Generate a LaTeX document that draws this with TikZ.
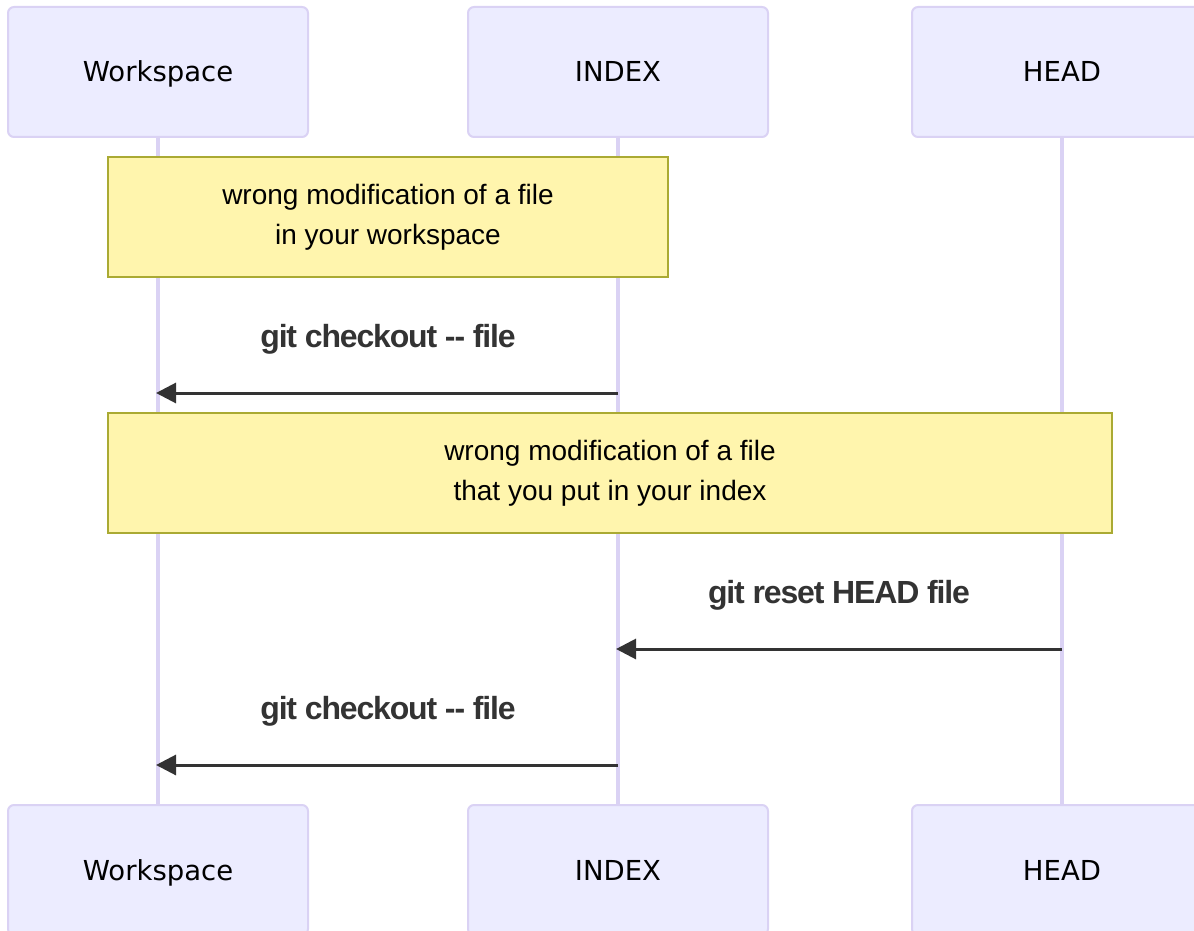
\documentclass[tikz,border=0pt]{standalone}
\usepackage{fontspec}
\setmainfont{Liberation Sans}
\newfontfamily\actorfont{DejaVu Sans}
\newfontfamily\msgfont[LetterSpace=-3.6]{Liberation Sans}
\usetikzlibrary{arrows.meta}
\definecolor{actorfill}{HTML}{ECECFF}
\definecolor{actorline}{HTML}{DAD2F4}
\definecolor{notefill}{HTML}{FFF5AD}
\definecolor{noteline}{HTML}{AAAA33}
\definecolor{msgline}{HTML}{333333}
\begin{document}
\begin{tikzpicture}[x=1pt,y=-1pt,
  actor/.style={draw=actorline, line width=2pt, fill=actorfill, rounded corners=6pt,
    minimum width=300pt, minimum height=130pt, inner sep=0pt,
    text height=20pt, text depth=0pt,
    font=\actorfont\fontsize{27.5}{33}\selectfont},
  note/.style={draw=noteline, line width=1.5pt, fill=notefill, inner sep=0pt,
    align=center, font=\fontsize{28}{40}\selectfont},
  msg/.style={draw=msgline, line width=3pt, -{Triangle[length=20pt,width=20pt]}},
  msglabel/.style={font=\msgfont\bfseries\fontsize{32}{36}\selectfont, text=msgline,
    inner sep=0pt, text height=23pt, text depth=0pt},
  life/.style={draw=actorline, line width=4pt}]
\useasboundingbox (0,0) rectangle (1194,931);
\clip (0,0) rectangle (1194,931);
% actors
\node[actor] (wt) at (158,72) {Workspace};
\node[actor] (it) at (618,72) {INDEX};
\node[actor] (ht) at (1062,72) {HEAD};
\node[actor] (wb) at (158,870) {Workspace};
\node[actor] (ib) at (618,870) {INDEX};
\node[actor] (hb) at (1062,870) {HEAD};
% lifelines
\draw[life] (wt.south) -- (wb.north);
\draw[life] (it.south) -- (ib.north);
\draw[life] (ht.south) -- (hb.north);
% notes
\node[note, minimum width=560pt, minimum height=120pt] (n1) at (388,217)
  {wrong modification of a file\\in your workspace};
\node[note, minimum width=1004pt, minimum height=120pt] (n2) at (610,473)
  {wrong modification of a file\\that you put in your index};
% messages
\coordinate (m1s) at (618,393);
\coordinate (m1e) at (156,393);
\coordinate (m2s) at (1062,649);
\coordinate (m2e) at (616,649);
\coordinate (m3s) at (618,765);
\coordinate (m3e) at (156,765);
\draw[msg] (m1s) -- (m1e);
\draw[msg] (m2s) -- (m2e);
\draw[msg] (m3s) -- (m3e);
\node[msglabel] (l1) at (388,336) {git checkout -{}- file};
\node[msglabel] (l2) at (839,592) {git reset HEAD file};
\node[msglabel] (l3) at (388,708) {git checkout -{}- file};
\end{tikzpicture}
\end{document}
